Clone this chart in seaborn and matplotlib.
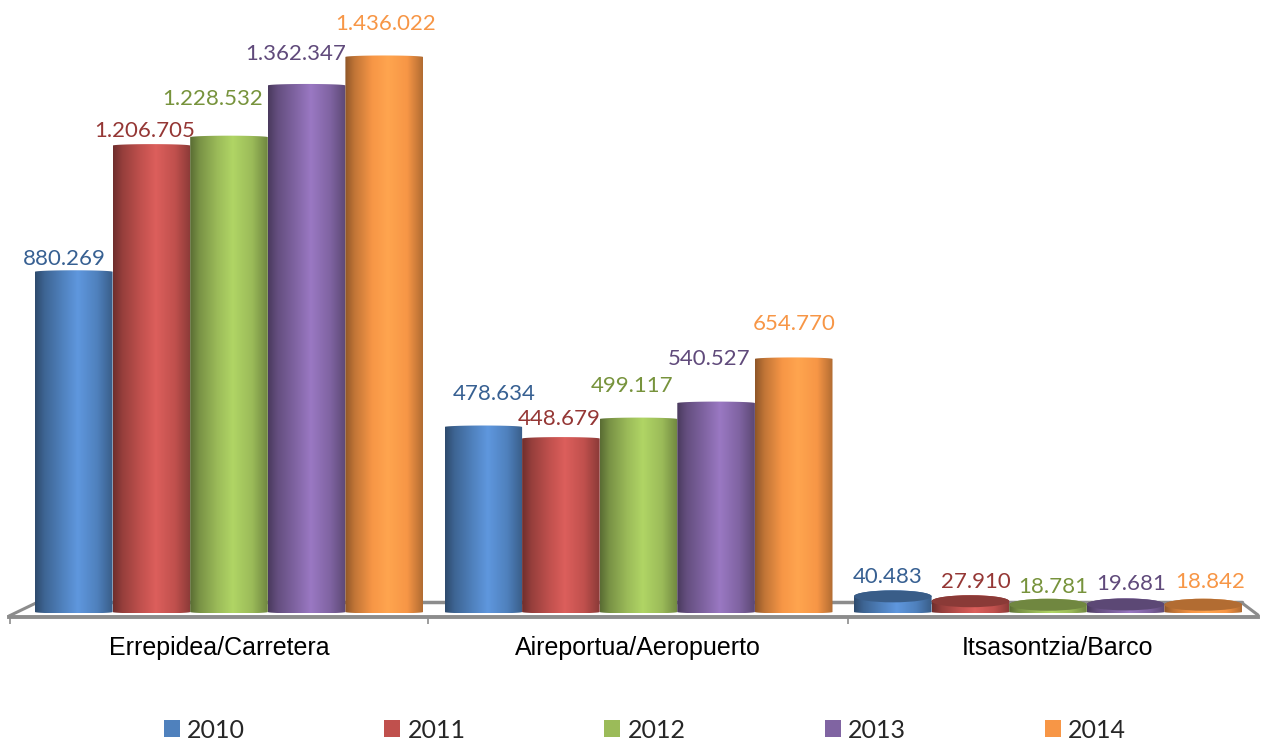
import numpy as np
import pandas as pd
import matplotlib
matplotlib.use("Agg")
import matplotlib.pyplot as plt
import seaborn as sns
from matplotlib.patches import Patch, PathPatch, Ellipse
from matplotlib.path import Path
from matplotlib.colors import to_rgb

categories = ["Errepidea/Carretera", "Aireportua/Aeropuerto", "Itsasontzia/Barco"]
years = ["2010", "2011", "2012", "2013", "2014"]
v2010 = [880269, 478634, 40483]
v2011 = [1206705, 448679, 27910]
v2012 = [1228532, 499117, 18781]
v2013 = [1362347, 540527, 19681]
v2014 = [1436022, 654770, 18842]

base_colors = ["#4F81BD", "#C0504D", "#9BBB59", "#8064A2", "#F79646"]
light_colors = ["#5F97DE", "#DC5F5C", "#B0D565", "#9A78C3", "#FFA54F"]
label_colors = ["#376092", "#953735", "#77933C", "#604A7B", "#F79646"]

# label offsets in pixels from the bar's top-centre, by year then category
label_dx = [[-9, 11, -5], [-7, -2, 5], [-16, -6, 5], [-11, -7, 6], [1, 0, 7]]
label_dy = [[13, 33, 19], [15, 20, 19], [38, 33, 18], [31, 44, 20], [33, 35, 23]]

W, H = 1263, 740
PX_X = 409.5          # pixels per category
X0 = 229              # pixel of category 0
Y0 = 612              # pixel of value 0
PX_Y = 386.5e-6       # pixels per unit value


def xd(px):
    return (px - X0) / PX_X


def yd(py):
    return (Y0 - py) / PX_Y


sns.set_theme(style="white")
plt.rcParams["font.family"] = ["Liberation Sans", "DejaVu Sans"]

df = pd.DataFrame({
    "category": categories * 5,
    "year": np.repeat(years, 3),
    "value": v2010 + v2011 + v2012 + v2013 + v2014,
})

fig = plt.figure(figsize=(W / 100, H / 100), dpi=100)
ax = fig.add_axes([0, 0, 1, 1])
sns.barplot(data=df, x="category", y="value", hue="year", hue_order=years,
            order=categories, palette=base_colors, width=388 / PX_X, gap=0,
            errorbar=None, legend=False, ax=ax, saturation=1)
xlim = (xd(0), xd(W))
ylim = (yd(H), yd(0))

# floor
floor_c = "#8C8C8C"
ax.plot([xd(9), xd(36)], [yd(616), yd(603)], color=floor_c, lw=2.2, zorder=1)
ax.plot([xd(36), xd(1242)], [yd(602)] * 2, color=floor_c, lw=2.5, zorder=1)
ax.plot([xd(1242), xd(1258)], [yd(603), yd(615)], color=floor_c, lw=2.2, zorder=1)


def shade(c, f):
    r = np.array(to_rgb(c))
    return tuple(r * f)


for i, container in enumerate(ax.containers):
    light = np.array(to_rgb(light_colors[i]))
    base = np.array(to_rgb(base_colors[i]))
    stops = np.array([0.0, 0.12, 0.35, 0.55, 0.8, 1.0])
    cols = np.array([shade(base, 0.58), shade(base, 0.78), base, light, base, shade(base, 0.72)])
    t = np.linspace(0, 1, 128)
    grad = np.stack([np.interp(t, stops, cols[:, k]) for k in range(3)], axis=1)[None, :, :]
    for j, bar in enumerate(container):
        x0, w, h = bar.get_x(), bar.get_width(), bar.get_height()
        x1 = x0 + w
        xc = x0 + w / 2
        bar.set_visible(False)
        small = h < 100000
        cap = 6 / PX_Y if small else 1.5 / PX_Y
        bot = 1.5 / PX_Y
        th = np.linspace(0, np.pi, 50)
        top_x = xc + np.cos(th) * w / 2
        top_y = h + np.sin(th) * cap
        bot_x = xc - np.cos(th) * w / 2
        bot_y = -np.sin(th) * bot
        verts = np.column_stack([np.r_[top_x, bot_x], np.r_[top_y, bot_y]])
        clip = PathPatch(Path(np.vstack([verts, verts[0]]), closed=True), transform=ax.transData,
                         fc="none", ec="none")
        ax.add_patch(clip)
        im = ax.imshow(grad, extent=(x0, x1, -bot, h + cap), aspect="auto", zorder=3 + i * 0.1,
                       interpolation="bilinear")
        im.set_clip_path(clip)
        if small:
            ax.add_patch(Ellipse((xc, h), w, 2 * cap, fc=shade(base, 0.72), ec="none",
                                 zorder=3.05 + i * 0.1))
        dx = label_dx[i][j]
        dy = label_dy[i][j]
        ax.annotate(f"{int(h):,}".replace(",", "."), (xc, h), xytext=(dx * 0.72, dy * 0.72),
                    textcoords="offset points", ha="center", va="center",
                    fontsize=16, family=["Lato", "DejaVu Sans"],
                    color=label_colors[i], zorder=6)

ax.set_xlim(xlim)
ax.set_ylim(ylim)
ax.set_xlabel("")
ax.set_ylabel("")
ax.set_yticks([])

for s in ["top", "left", "right"]:
    ax.spines[s].set_visible(False)
sp = ax.spines["bottom"]
sp.set_position(("data", yd(617)))
sp.set_bounds(xd(9), xd(1258))
sp.set_color(floor_c)
sp.set_linewidth(2.8)
sp.set_zorder(2)

edges = [xd(10), xd(428), xd(848)]
mids = [xd(219), xd(638), xd(1057)]
ax.set_xticks(mids)
ax.set_xticklabels(categories, fontsize=18, color="black")
ax.set_xticks(edges, minor=True)
ax.tick_params(axis="x", which="major", length=0, pad=14)
ax.tick_params(axis="x", which="minor", length=5, width=1.2, color=floor_c, bottom=True, direction="out")

handles = [Patch(fc=c, ec="none", label=y) for c, y in zip(base_colors, years)]
ax.legend(handles=handles, loc="center", bbox_to_anchor=(645 / W, 1 - 730 / H),
          bbox_transform=ax.transAxes, ncol=5, frameon=False,
          prop={"family": ["Lato", "DejaVu Sans"], "size": 18},
          handlelength=0.64, handleheight=0.64, handletextpad=0.3, columnspacing=5.55,
          borderpad=0, borderaxespad=0)

fig.savefig("out.png", dpi=100)
